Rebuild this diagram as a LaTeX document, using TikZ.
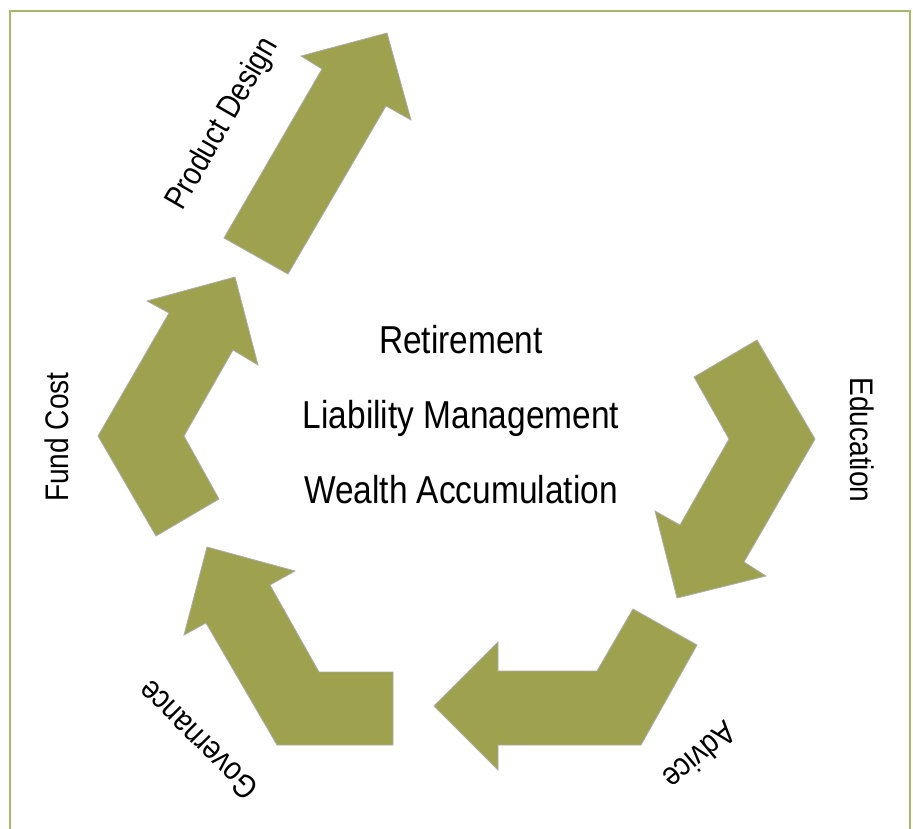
\documentclass[tikz,border=0pt]{standalone}
\usepackage{fontspec}
\setmainfont{Liberation Sans}[FakeStretch=0.86]
\definecolor{arrowfill}{RGB}{158,162,79}
\definecolor{arrowedge}{RGB}{172,172,172}
\definecolor{frameline}{RGB}{168,183,110}
\begin{document}
\begin{tikzpicture}[x=0.75pt, y=-0.75pt,
  bigarrow/.style={fill=arrowfill, draw=arrowedge, line width=0.6pt, line join=miter},
  centertext/.style={font=\fontsize{29.2}{32}\selectfont, anchor=base, inner sep=0pt},
  sidelabel/.style={font=\fontsize{24.5}{27}\selectfont, inner sep=0pt}]
\useasboundingbox (0,0) rectangle (913,828);
% frame
\draw[frameline, line width=1.1pt] (10,835) -- (10,11) -- (910,11) -- (910,835);

% six-step cycle of bent arrows
\draw[bigarrow] (387,33) -- (411,120) -- (386,106) -- (288,274) -- (224,238) -- (322,69) -- (301,56) -- cycle;
\draw[bigarrow] (235,277) -- (258,365) -- (233,350) -- (184,436) -- (219,499) -- (156,536) -- (98,436) -- (169,313) -- (147,301) -- cycle;
\draw[bigarrow] (757,340) -- (815,439) -- (744,562) -- (766,576) -- (677,598) -- (655,511) -- (680,525) -- (729,439) -- (694,377) -- cycle;
\draw[bigarrow] (633,609) -- (697,645) -- (641,745) -- (498,745) -- (498,770) -- (434,706) -- (498,642) -- (498,671) -- (597,671) -- cycle;
\draw[bigarrow] (207,547) -- (295,571) -- (270,585) -- (319,672) -- (393,672) -- (393,745) -- (277,745) -- (206,623) -- (184,635) -- cycle;

% central text
\node[centertext] (ret) at (461,353) {Retirement};
\node[centertext] (liab) at (461,428) {Liability Management};
\node[centertext] (wealth) at (461,503) {Wealth Accumulation};

% labels along the cycle
\node[sidelabel, rotate=60] (prod) at (223,124) {Product Design};
\node[sidelabel, rotate=90] (fund) at (57,437) {Fund Cost};
\node[sidelabel, rotate=-90] (edu) at (862,440) {Education};
\node[sidelabel, rotate=220] (adv) at (700,756) {Advice};
\node[sidelabel, rotate=135] (gov) at (198,740) {Governance};
\end{tikzpicture}
\end{document}
